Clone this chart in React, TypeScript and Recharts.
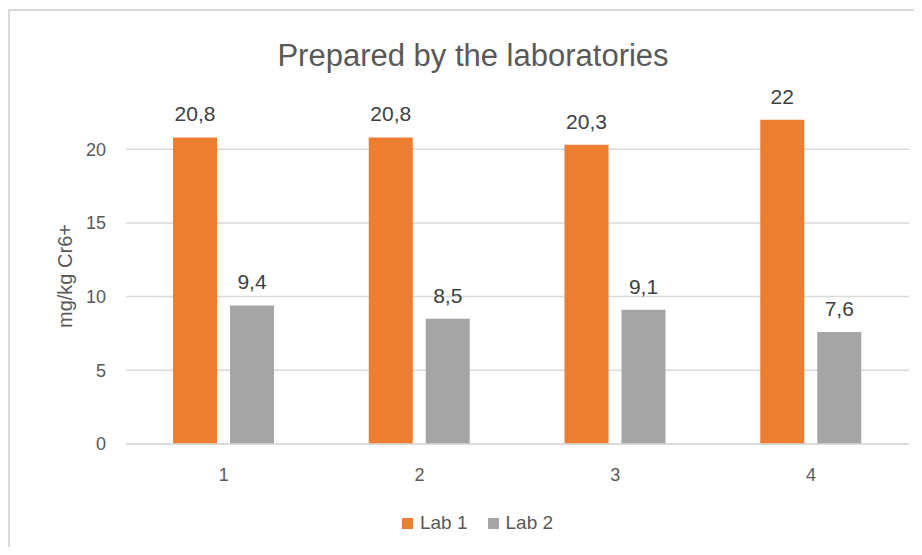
import React from "react"
import { BarChart, Bar, XAxis, YAxis, CartesianGrid, Legend, LabelList, Label } from "recharts"

const categories = ["1", "2", "3", "4"]
const lab1 = [20.8, 20.8, 20.3, 22]
const lab2 = [9.4, 8.5, 9.1, 7.6]
const yTicks = [0, 5, 10, 15, 20]

const data = categories.map((name, i) => ({ name, lab1: lab1[i], lab2: lab2[i] }))

const font = "'Liberation Sans', Arial, sans-serif"
const fmt = (v: any) => String(v).replace(".", ",")

const renderLegend = (props: any) => {
  const items = props.payload || []
  return (
    <div style={{ display: "flex", justifyContent: "center", paddingLeft: 38, fontSize: 19, color: "#595959", fontFamily: font }}>
      {items.map((it: any, i: number) => (
        <div key={i} style={{ display: "flex", alignItems: "center", marginRight: i < items.length - 1 ? 20 : 0 }}>
          <span style={{ display: "inline-block", width: 11, height: 11, background: it.color, marginRight: 7 }} />
          <span>{it.value}</span>
        </div>
      ))}
    </div>
  )
}

export default function App() {
  return (
    <div style={{ position: "relative", width: 914, height: 539, fontFamily: font }}>
      <div
        style={{
          position: "absolute",
          left: 0,
          top: 1,
          width: 914,
          height: 538,
          boxSizing: "border-box",
          borderTop: "2px solid #d9d9d9",
          borderLeft: "2px solid #d9d9d9",
        }}
      />
      <div
        style={{
          position: "absolute",
          left: 0,
          width: 930,
          top: 29,
          textAlign: "center",
          fontSize: 31,
          color: "#595959",
          lineHeight: "38px",
        }}
      >
        Prepared by the laboratories
      </div>
      <BarChart
        width={914}
        height={539}
        data={data}
        margin={{ top: 67.5, right: 13, left: 0, bottom: 3 }}
        barSize={44}
        barGap={13}
      >
        <CartesianGrid vertical={false} horizontalValues={yTicks} stroke="#d9d9d9" strokeWidth={1.5} />
        <XAxis
          dataKey="name"
          height={68}
          tickSize={0}
          tickMargin={24}
          axisLine={{ stroke: "#d9d9d9", strokeWidth: 1.5 }}
          tick={{ fill: "#595959", fontSize: 18, fontFamily: font }}
        />
        <YAxis
          width={118}
          domain={[0, 25]}
          ticks={yTicks}
          axisLine={false}
          tickLine={false}
          tickSize={0}
          tickMargin={20}
          tick={{ fill: "#595959", fontSize: 18, fontFamily: font }}
        >
          <Label
            content={() => (
              <text
                x={57}
                y={268}
                transform="rotate(-90 57 268)"
                textAnchor="middle"
                dominantBaseline="central"
                fill="#595959"
                fontSize={20}
                fontFamily={font}
              >
                mg/kg Cr6+
              </text>
            )}
          />
        </YAxis>
        <Legend verticalAlign="bottom" height={32} content={renderLegend} />
        <Bar dataKey="lab1" name="Lab 1" fill="#ED7D31" isAnimationActive={false}>
          <LabelList dataKey="lab1" position="top" offset={16} formatter={fmt} fill="#404040" fontSize={21} fontFamily={font} />
        </Bar>
        <Bar dataKey="lab2" name="Lab 2" fill="#A5A5A5" isAnimationActive={false}>
          <LabelList dataKey="lab2" position="top" offset={16} formatter={fmt} fill="#404040" fontSize={21} fontFamily={font} />
        </Bar>
      </BarChart>
    </div>
  )
}
